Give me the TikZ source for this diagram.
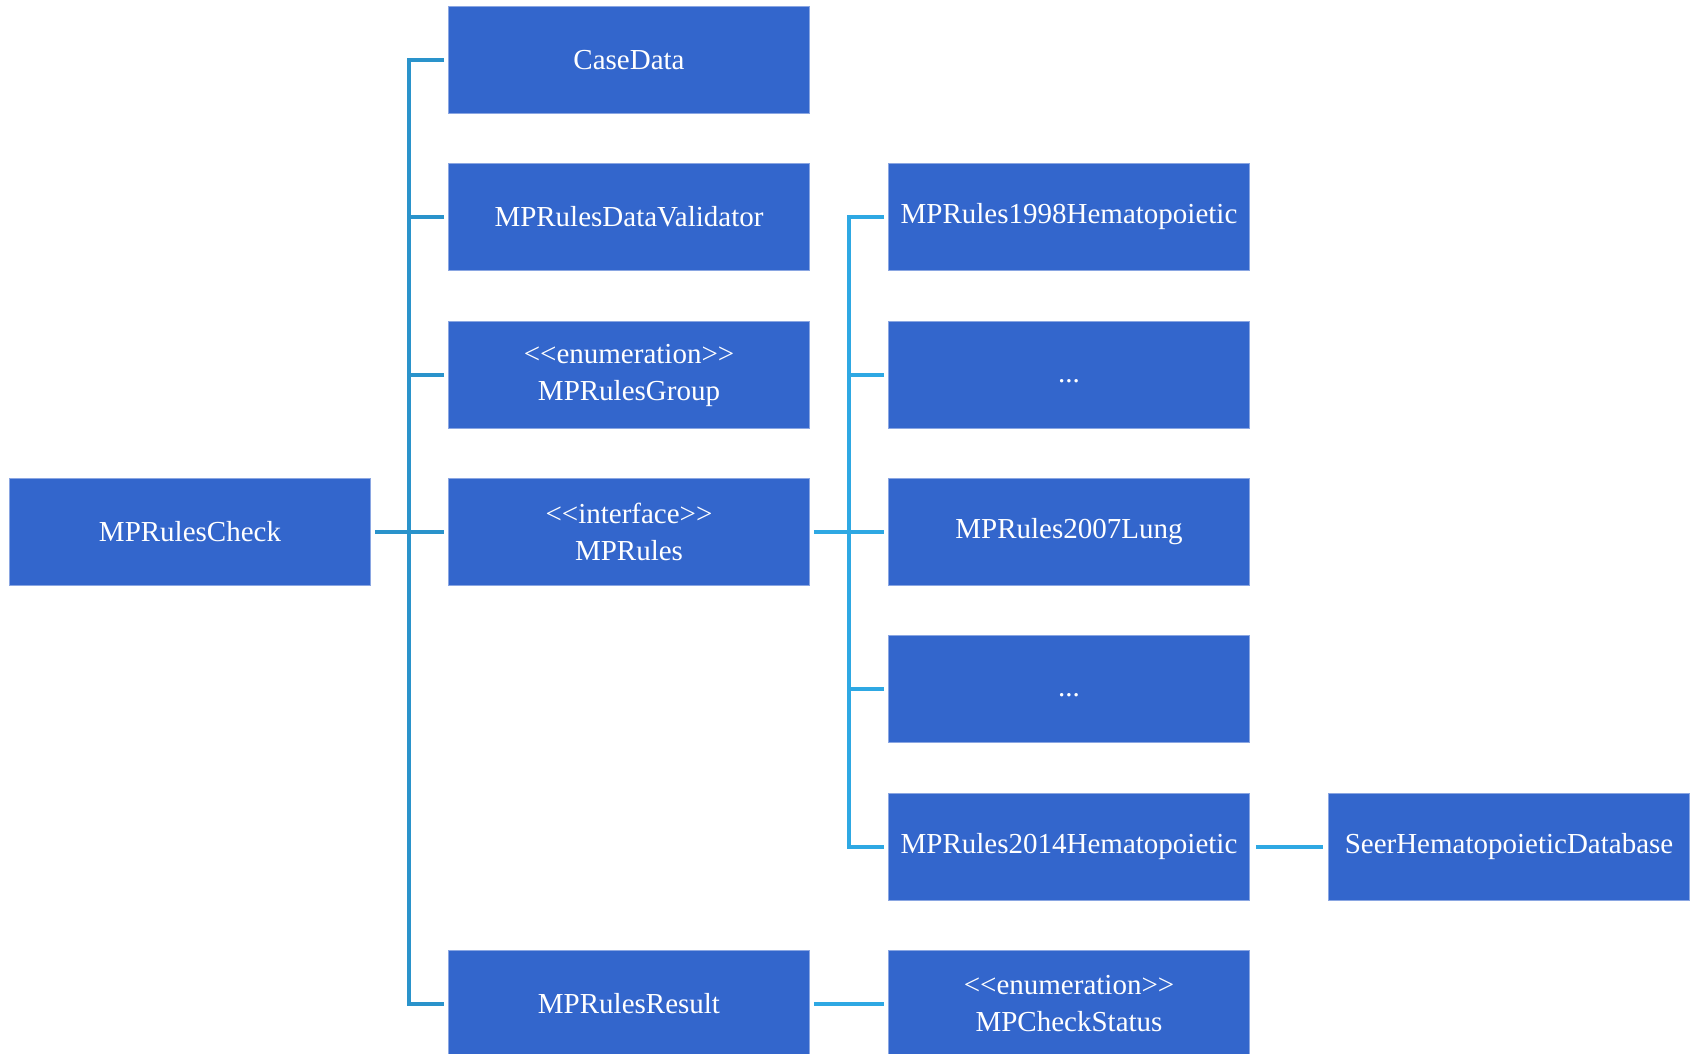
\documentclass[tikz,border=0pt]{standalone}
\usepackage{fontspec}
\setmainfont{Liberation Serif}
\definecolor{boxfill}{HTML}{3366CC}
\definecolor{boxedge}{HTML}{8AA6E2}
\definecolor{lineA}{HTML}{2A93CB}
\definecolor{lineB}{HTML}{2EA8E3}
\begin{document}
\begin{tikzpicture}[x=1pt,y=-1pt,
  cls/.style={draw=boxedge, line width=0.8pt, fill=boxfill, text=white,
    minimum width=361pt, minimum height=107pt, inner sep=0pt, align=center,
    font=\fontsize{29}{37}\selectfont},
  linkA/.style={draw=lineA, line width=4pt},
  linkB/.style={draw=lineB, line width=4pt}]
\useasboundingbox (0,0) rectangle (1691,1054);
\clip (0,0) rectangle (1691,1054);
% column 1
\node[cls] (check) at (190,532) {MPRulesCheck};
% column 2
\node[cls] (casedata) at (629,60) {CaseData};
\node[cls] (validator) at (629,217) {MPRulesDataValidator};
\node[cls] (group) at (629,375) {<{}<enumeration>{}>\\MPRulesGroup};
\node[cls] (mprules) at (629,532) {<{}<interface>{}>\\MPRules};
\node[cls] (result) at (629,1004) {MPRulesResult};
% column 3
\node[cls] (hema98) at (1069,217) {MPRules1998Hematopoietic};
\node[cls] (dots1) at (1069,375) {\strut...};
\node[cls] (lung) at (1069,532) {MPRules2007Lung};
\node[cls] (dots2) at (1069,689) {\strut...};
\node[cls] (hema14) at (1069,847) {MPRules2014Hematopoietic};
\node[cls] (status) at (1069,1004) {<{}<enumeration>{}>\\MPCheckStatus};
% column 4
\node[cls] (seer) at (1509,847) {SeerHematopoieticDatabase};
% left tree
\draw[linkA] ([xshift=4pt]check.east) -- ([xshift=-4pt]mprules.west);
\draw[linkA] ([xshift=-4pt]casedata.west) -| ([xshift=-39pt]result.west) -- ([xshift=-4pt]result.west);
\draw[linkA] ([xshift=-4pt]validator.west) -- ([xshift=-39pt]validator.west);
\draw[linkA] ([xshift=-4pt]group.west) -- ([xshift=-39pt]group.west);
% right tree
\draw[linkB] ([xshift=4pt]mprules.east) -- ([xshift=-4pt]lung.west);
\draw[linkB] ([xshift=-4pt]hema98.west) -| ([xshift=-39pt]hema14.west) -- ([xshift=-4pt]hema14.west);
\draw[linkB] ([xshift=-4pt]dots1.west) -- ([xshift=-39pt]dots1.west);
\draw[linkB] ([xshift=-4pt]dots2.west) -- ([xshift=-39pt]dots2.west);
\draw[linkB] ([xshift=6pt]hema14.east) -- ([xshift=-5pt]seer.west);
\draw[linkB] ([xshift=4pt]result.east) -- ([xshift=-4pt]status.west);
\end{tikzpicture}
\end{document}
